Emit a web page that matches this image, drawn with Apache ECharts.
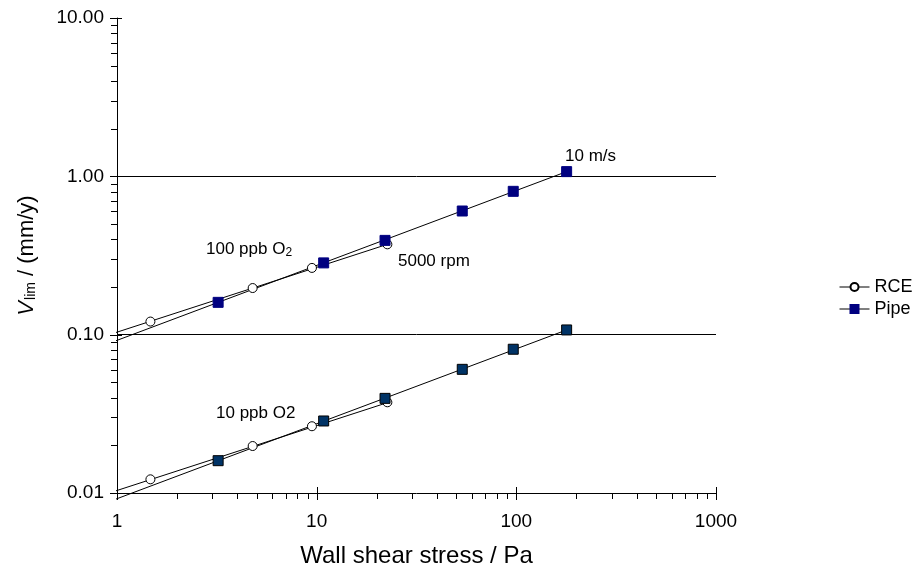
<!DOCTYPE html>
<html>
<head>
<meta charset="utf-8">
<script src="https://cdn.jsdelivr.net/npm/echarts@6/dist/echarts.min.js"></script>
<style>html,body{margin:0;padding:0;background:#fff}#c{width:922px;height:573px}</style>
</head>
<body>
<div id="c"></div>
<script>
// Data
const shearRCE = [1.47, 4.78, 9.47, 22.6];
const vRCE100 = [0.121, 0.197, 0.264, 0.372];
const vRCE10 = [0.0122, 0.0198, 0.0264, 0.0374];
const shearPipe = [3.21, 10.84, 22.0, 53.6, 96.5, 178.6];
const vPipe100 = [0.160, 0.284, 0.394, 0.604, 0.804, 1.071];
const vPipe10 = [0.0160, 0.0285, 0.0396, 0.0604, 0.0809, 0.1071];
// Trend line endpoints [x, y]
const trendRCE100 = [[0.96, 0.102], [22.6, 0.372]];
const trendPipe100 = [[0.96, 0.0903], [178.6, 1.071]];
const trendRCE10 = [[0.96, 0.0102], [22.6, 0.0372]];
const trendPipe10 = [[0.96, 0.00903], [178.6, 0.1071]];
// Axis tick values
const xMajor = [1, 10, 100, 1000];
const xMinor = [2,3,4,5,6,7,8,9,20,30,40,50,60,70,80,90,200,300,400,500,600,700,800,900];
const yMajor = [0.01, 0.1, 1, 10];
const yMinor = [0.02,0.03,0.04,0.05,0.06,0.07,0.08,0.09,0.2,0.3,0.4,0.5,0.6,0.7,0.8,0.9,2,3,4,5,6,7,8,9];

const FONT = '"Liberation Sans", Arial, sans-serif';
const zip = (xs, ys) => xs.map((x, i) => [x, ys[i]]);

function tickSeries(data, kind) {
  return {
    type: 'custom', silent: true, clip: false, z: 5,
    data: data,
    renderItem: function (params, api) {
      const p = api.coord([api.value(0), api.value(1)]);
      let shape;
      if (kind === 'yMinor') { const y = Math.round(p[1]) + 0.5; shape = {x1: p[0] - 6, y1: y, x2: p[0], y2: y}; }
      else if (kind === 'yMajor') { const y = Math.round(p[1]) + 0.5; shape = {x1: p[0] - 7, y1: y, x2: p[0] + 5, y2: y}; }
      else if (kind === 'xMinor') { const x = Math.round(p[0]) + 0.5; shape = {x1: x, y1: p[1], x2: x, y2: p[1] + 6}; }
      else { const x = Math.round(p[0]) + 0.5; shape = {x1: x, y1: p[1] - 6, x2: x, y2: p[1] + 7}; }
      return {type: 'line', shape: shape, style: {stroke: '#000', lineWidth: 1}};
    }
  };
}

function trend(data) {
  return {type: 'line', data: data, showSymbol: false, symbol: 'none', clip: false, silent: true,
    lineStyle: {color: '#000', width: 1}, z: 2};
}

const chart = echarts.init(document.getElementById('c'));
chart.setOption({
  animation: false,
  backgroundColor: '#fff',
  textStyle: {fontFamily: FONT, color: '#000'},
  grid: {left: 117, right: 206, top: 18, bottom: 80, containLabel: false},
  xAxis: {
    type: 'log', logBase: 10, min: 1, max: 1000,
    name: 'Wall shear stress / Pa', nameLocation: 'middle', nameGap: 51,
    nameTextStyle: {fontSize: 24, color: '#000', fontFamily: FONT},
    axisLine: {lineStyle: {color: '#000', width: 1}},
    axisTick: {show: false},
    axisLabel: {fontSize: 19, color: '#000', margin: 19, fontFamily: FONT,
      formatter: v => String(Math.round(v))},
    splitLine: {show: false}
  },
  yAxis: {
    type: 'log', logBase: 10, min: 0.01, max: 10,
    name: '{v|V}{s|lim}{n| / (mm/y)}', nameLocation: 'middle', nameGap: 79, nameRotate: 90,
    nameTextStyle: {
      color: '#000', fontFamily: FONT, fontSize: 22,
      rich: {
        v: {fontSize: 22, fontStyle: 'italic', fontFamily: FONT, color: '#000'},
        s: {fontSize: 14, fontFamily: FONT, color: '#000', padding: [8, 0, 0, 1]},
        n: {fontSize: 22, fontFamily: FONT, color: '#000'}
      }
    },
    axisLine: {show: true, lineStyle: {color: '#000', width: 1}},
    axisTick: {show: false},
    axisLabel: {fontSize: 19, color: '#000', margin: 13, fontFamily: FONT,
      formatter: v => Number(v).toFixed(2)},
    splitLine: {show: true, showMinLine: false, showMaxLine: false, lineStyle: {color: '#000', width: 1}}
  },
  legend: {
    orient: 'vertical', left: 834, top: 273, itemWidth: 30, itemHeight: 10, itemGap: 4,
    textStyle: {fontSize: 18, color: '#000', fontFamily: FONT},
    lineStyle: {color: '#000', width: 1, opacity: 1},
    data: ['RCE', 'Pipe']
  },
  series: [
    trend(trendRCE100), trend(trendPipe100), trend(trendRCE10), trend(trendPipe10),
    {name: 'RCE', type: 'line', data: zip(shearRCE, vRCE100), symbol: 'circle', symbolSize: 9,
      lineStyle: {width: 0, opacity: 0}, itemStyle: {color: '#fff', borderColor: '#000', borderWidth: 1}, z: 4},
    {name: 'Pipe', type: 'line', data: zip(shearPipe, vPipe100), symbol: 'rect', symbolSize: 10,
      lineStyle: {width: 0, opacity: 0}, itemStyle: {color: '#000080', borderColor: '#000080', borderWidth: 1}, z: 4},
    {name: 'RCE', type: 'line', data: zip(shearRCE, vRCE10), symbol: 'circle', symbolSize: 9,
      lineStyle: {width: 0, opacity: 0}, itemStyle: {color: '#fff', borderColor: '#000', borderWidth: 1}, z: 4},
    {name: 'Pipe', type: 'line', data: zip(shearPipe, vPipe10), symbol: 'rect', symbolSize: 10,
      lineStyle: {width: 0, opacity: 0}, itemStyle: {color: '#003366', borderColor: '#000', borderWidth: 1}, z: 4},
    tickSeries(yMinor.map(v => [1, v]), 'yMinor'),
    tickSeries(yMajor.map(v => [1, v]), 'yMajor'),
    tickSeries(xMinor.map(v => [v, 0.01]), 'xMinor'),
    tickSeries(xMajor.map(v => [v, 0.01]), 'xMajor')
  ],
  graphic: [
    {type: 'text', left: 206, top: 241, style: {text: '{n|100 ppb O}{s|2}', fontFamily: FONT,
      rich: {n: {fontSize: 17, fontFamily: FONT, fill: '#000'}, s: {fontSize: 12, fontFamily: FONT, fill: '#000', padding: [6, 0, 0, 0]}}}},
    {type: 'text', left: 398, top: 253, style: {text: '5000 rpm', fontSize: 17, fontFamily: FONT, fill: '#000'}},
    {type: 'text', left: 565, top: 148, style: {text: '10 m/s', fontSize: 17, fontFamily: FONT, fill: '#000'}},
    {type: 'text', left: 216, top: 405, style: {text: '10 ppb O2', fontSize: 17, fontFamily: FONT, fill: '#000'}}
  ]
});
</script>
</body>
</html>
